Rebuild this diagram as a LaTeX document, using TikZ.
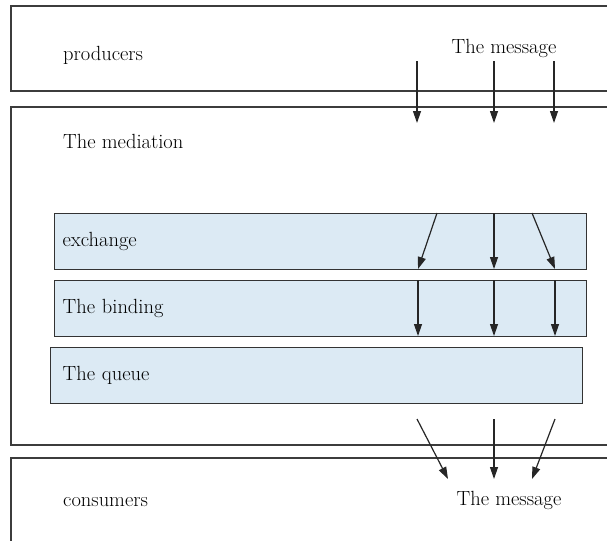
\documentclass[tikz,border=0pt]{standalone}
\usetikzlibrary{positioning}
\usetikzlibrary{arrows.meta}

\definecolor{layerblue}{RGB}{220,234,244}
\definecolor{framegray}{RGB}{60,60,60}
\newcommand{\labelfont}{\fontsize{20.5}{24}\selectfont}

\tikzset{
  frame/.style={draw=framegray, line width=1.2pt},
  layer/.style={draw=black!80, line width=1.2pt, fill=layerblue, anchor=north west,
    minimum height=56pt, text width=516pt, inner xsep=8pt, align=left, font=\labelfont},
  flow/.style={draw=black!85, line width=1.2pt, -{Triangle[length=12pt,width=8pt]}},
  caption/.style={font=\labelfont, inner sep=0pt, anchor=base west}
}

\begin{document}
\begin{tikzpicture}[x=1pt,y=-1pt]
	\useasboundingbox (0,0) rectangle (607,541);

	% Outer frames, open on the right
	\draw[frame] (607,6) -| (11,91) -- (607,91);
	\draw[frame] (607,107) -| (11,445) -- (607,445);
	\draw[frame] (607,458) -| (11,541);

	% Labels of the frames
	\node[caption] (producers) at (63,60) {producers};
	\node[caption] (mediation) at (63,148) {The mediation};
	\node[caption] (consumers) at (63,506) {consumers};
	\node[caption, anchor=base] (msgin) at (504,53) {The message};
	\node[caption, anchor=base] (msgout) at (509,505) {The message};

	% The layers of the mediation
	\node[layer] (exchange) at (54,213) {exchange};
	\node[layer] (binding) at (54,280) {The binding};
	\node[layer, inner xsep=12pt, text width=508pt] (queue) at (50,347) {The queue};

	% Define the end points of the arrows
	\coordinate (A1) at (417,61);  \coordinate (B1) at (417,123);
	\coordinate (A2) at (494,61);  \coordinate (B2) at (494,123);
	\coordinate (A3) at (554,61);  \coordinate (B3) at (554,123);

	\coordinate (C1) at (437,213); \coordinate (D1) at (418,269);
	\coordinate (C2) at (494,213); \coordinate (D2) at (494,269);
	\coordinate (C3) at (532,213); \coordinate (D3) at (555,269);

	\coordinate (E1) at (418,280); \coordinate (F1) at (418,336);
	\coordinate (E2) at (494,280); \coordinate (F2) at (494,336);
	\coordinate (E3) at (555,280); \coordinate (F3) at (555,336);

	\coordinate (G1) at (417,419); \coordinate (H1) at (448,479);
	\coordinate (G2) at (494,419); \coordinate (H2) at (494,479);
	\coordinate (G3) at (555,419); \coordinate (H3) at (532,479);

	% Draw the arrows
	\foreach \i in {1,2,3} {
		\draw[flow] (A\i) -- (B\i);
		\draw[flow] (C\i) -- (D\i);
		\draw[flow] (E\i) -- (F\i);
		\draw[flow] (G\i) -- (H\i);
	}
\end{tikzpicture}
\end{document}
